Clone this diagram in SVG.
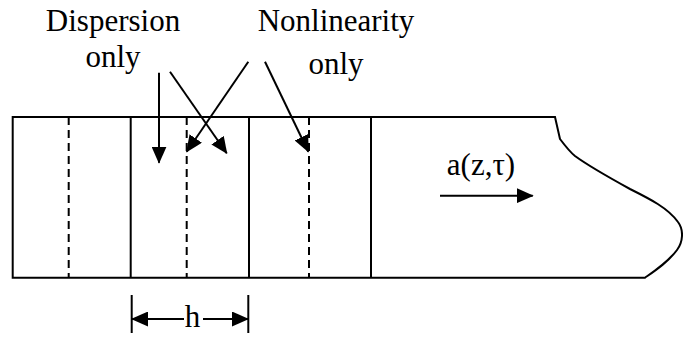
<svg xmlns="http://www.w3.org/2000/svg" width="683" height="337" viewBox="0 0 683 337">
<style>
.ln{stroke:#000;stroke-width:2;fill:none}
.dash{stroke:#000;stroke-width:2;fill:none;stroke-dasharray:8 5}
text{font-family:'Liberation Serif','Times New Roman',Times,serif;font-size:31px;fill:#000;text-anchor:middle}
</style>
<defs>
<marker id="ah" viewBox="0 0 17 15" refX="16" refY="7.5" markerWidth="17" markerHeight="15" markerUnits="userSpaceOnUse" orient="auto-start-reverse">
<path d="M0,0 L17,7.5 L0,15 Z" fill="#000"/>
</marker>
</defs>
<g id="fiber">
<path class="ln" d="M12.7,117 L555,117 L560,139 C566,147 570,152 575,156 C590,167 610,178 630,189 C650,199 668,208 678,222 C684,230 683,242 677,250 C668,262 656,270 645,277.7 L12.7,277.7 Z"/>
<line class="ln" x1="130.7" y1="117" x2="130.7" y2="277.7"/>
<line class="ln" x1="249" y1="117" x2="249" y2="277.7"/>
<line class="ln" x1="371" y1="117" x2="371" y2="277.7"/>
<line class="dash" x1="68.7" y1="117" x2="68.7" y2="277.7"/>
<line class="dash" x1="186.7" y1="117" x2="186.7" y2="277.7"/>
<line class="dash" x1="309" y1="117" x2="309" y2="277.7"/>
</g>
<g id="dispersion-label">
<text x="113" y="31">Dispersion</text>
<text x="113" y="67">only</text>
</g>
<g id="nonlinearity-label">
<text x="336" y="31">Nonlinearity</text>
<text x="336" y="74">only</text>
</g>
<g id="field-label">
<text x="481" y="175">a(z,τ)</text>
</g>
<g id="h-label">
<text x="192.5" y="327">h</text>
</g>
<g id="connectors">
<line class="ln" x1="159" y1="72.7" x2="159" y2="162.7" marker-end="url(#ah)"/>
<line class="ln" x1="170" y1="71.7" x2="226.7" y2="153.3" marker-end="url(#ah)"/>
<line class="ln" x1="248.3" y1="61.7" x2="186.7" y2="151.7" marker-end="url(#ah)"/>
<line class="ln" x1="265" y1="61.7" x2="308.3" y2="151.7" marker-end="url(#ah)"/>
<line class="ln" x1="440" y1="195.7" x2="532.7" y2="195.7" marker-end="url(#ah)"/>
<line class="ln" x1="131.7" y1="295" x2="131.7" y2="333"/>
<line class="ln" x1="248.3" y1="295" x2="248.3" y2="333"/>
<line class="ln" x1="184" y1="319" x2="132" y2="319" marker-end="url(#ah)"/>
<line class="ln" x1="203" y1="319" x2="248" y2="319" marker-end="url(#ah)"/>
</g>
</svg>
